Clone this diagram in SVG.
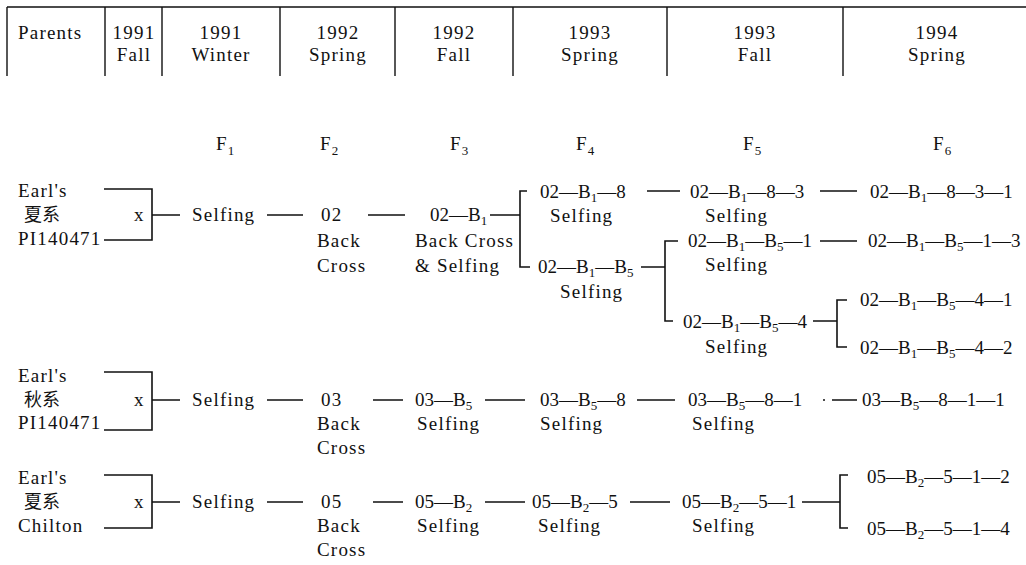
<svg xmlns="http://www.w3.org/2000/svg" width="1026" height="565" viewBox="0 0 1026 565">
<style>
.t{font-family:"Liberation Serif","Noto Sans CJK SC",serif;font-size:19px;fill:#111;letter-spacing:1.2px}
.d{letter-spacing:0}
.m{text-anchor:middle}
.c{font-family:"Noto Sans CJK SC","Noto Sans CJK JP",sans-serif;font-size:18px;fill:#111}
.s{font-size:13px}
.ln{stroke:#111;stroke-width:1.6;fill:none}
.hl{stroke:#111;stroke-width:1.4;fill:none}
</style>
<rect width="1026" height="565" fill="#fff"/>
<g id="header">
<path class="hl" d="M7,7H1026M7,7V76M105,7V76M162,7V76M280,7V76M395,7V76M513,7V76M667,7V76M843,7V76"/>
<text class="t" x="18" y="39">Parents</text>
<text class="t m" x="134" y="39">1991</text><text class="t m" x="134" y="61">Fall</text>
<text class="t m" x="221" y="39">1991</text><text class="t m" x="221" y="61">Winter</text>
<text class="t m" x="338" y="39">1992</text><text class="t m" x="338" y="61">Spring</text>
<text class="t m" x="454" y="39">1992</text><text class="t m" x="454" y="61">Fall</text>
<text class="t m" x="590" y="39">1993</text><text class="t m" x="590" y="61">Spring</text>
<text class="t m" x="755" y="39">1993</text><text class="t m" x="755" y="61">Fall</text>
<text class="t m" x="937" y="39">1994</text><text class="t m" x="937" y="61">Spring</text>
</g>
<g id="generations">
<text class="t" x="216" y="150">F<tspan class="s" dy="5">1</tspan></text>
<text class="t" x="320" y="150">F<tspan class="s" dy="5">2</tspan></text>
<text class="t" x="450" y="150">F<tspan class="s" dy="5">3</tspan></text>
<text class="t" x="576" y="150">F<tspan class="s" dy="5">4</tspan></text>
<text class="t" x="743" y="150">F<tspan class="s" dy="5">5</tspan></text>
<text class="t" x="933" y="150">F<tspan class="s" dy="5">6</tspan></text>
</g>
<g id="connectors">
<path class="ln" d="M104,189H152V240H104M152,215H180M267,215H303M368,215H405M490,215H520M527,191H520V267H530M647,191H680M820,191H857M641,267H665M678,241H665V321H673M820,241H857M813,321H837M847,300H837V347H847"/>
<path class="ln" d="M104,372H152V430H104M152,400H180M267,400H303M373,400H403M485,400H525M637,400H675M832,400H857"/>
<circle cx="824" cy="400" r="1" fill="#111"/>
<path class="ln" d="M104,475H152V528H104M152,502H180M267,502H303M373,502H403M485,502H525M630,502H670M802,502H840M848,475H840V528H848"/>
</g>
<g id="parents1">
<text class="t" x="18" y="197">Earl's</text>
<text class="c" x="24" y="221">夏系</text>
<text class="t" x="18" y="245">PI140471</text>
<text class="t" x="134" y="221">x</text>
</g>
<g id="f1-1"><text class="t" x="192" y="221">Selfing</text></g>
<g id="f2-02"><text class="t" x="321" y="221">02</text><text class="t" x="317" y="247">Back</text><text class="t" x="317" y="272">Cross</text></g>
<g id="f3-02B1"><text class="t d" x="430" y="221">02—B<tspan class="s" dy="4">1</tspan></text><text class="t" x="415" y="247">Back Cross</text><text class="t" x="415" y="272">&amp; Selfing</text></g>
<g id="f4-02B18"><text class="t d" x="540" y="198">02—B<tspan class="s" dy="4">1</tspan><tspan dy="-4">—8</tspan></text><text class="t" x="550" y="222">Selfing</text></g>
<g id="f5-02B183"><text class="t d" x="690" y="198">02—B<tspan class="s" dy="4">1</tspan><tspan dy="-4">—8—3</tspan></text><text class="t" x="705" y="222">Selfing</text></g>
<g id="f6-02B1831"><text class="t d" x="870" y="198">02—B<tspan class="s" dy="4">1</tspan><tspan dy="-4">—8—3—1</tspan></text></g>
<g id="f4-02B1B5"><text class="t d" x="538" y="273">02—B<tspan class="s" dy="4">1</tspan><tspan dy="-4">—B</tspan><tspan class="s" dy="4">5</tspan></text><text class="t" x="560" y="298">Selfing</text></g>
<g id="f5-02B1B51"><text class="t d" x="688" y="247">02—B<tspan class="s" dy="4">1</tspan><tspan dy="-4">—B</tspan><tspan class="s" dy="4">5</tspan><tspan dy="-4">—1</tspan></text><text class="t" x="705" y="271">Selfing</text></g>
<g id="f6-02B1B513"><text class="t d" x="868" y="247">02—B<tspan class="s" dy="4">1</tspan><tspan dy="-4">—B</tspan><tspan class="s" dy="4">5</tspan><tspan dy="-4">—1—3</tspan></text></g>
<g id="f5-02B1B54"><text class="t d" x="683" y="328">02—B<tspan class="s" dy="4">1</tspan><tspan dy="-4">—B</tspan><tspan class="s" dy="4">5</tspan><tspan dy="-4">—4</tspan></text><text class="t" x="705" y="353">Selfing</text></g>
<g id="f6-02B1B541"><text class="t d" x="860" y="306">02—B<tspan class="s" dy="4">1</tspan><tspan dy="-4">—B</tspan><tspan class="s" dy="4">5</tspan><tspan dy="-4">—4—1</tspan></text></g>
<g id="f6-02B1B542"><text class="t d" x="860" y="354">02—B<tspan class="s" dy="4">1</tspan><tspan dy="-4">—B</tspan><tspan class="s" dy="4">5</tspan><tspan dy="-4">—4—2</tspan></text></g>
<g id="parents2">
<text class="t" x="18" y="382">Earl's</text>
<text class="c" x="24" y="406">秋系</text>
<text class="t" x="18" y="429">PI140471</text>
<text class="t" x="134" y="406">x</text>
</g>
<g id="f1-2"><text class="t" x="192" y="406">Selfing</text></g>
<g id="f2-03"><text class="t" x="321" y="406">03</text><text class="t" x="317" y="430">Back</text><text class="t" x="317" y="454">Cross</text></g>
<g id="f3-03B5"><text class="t d" x="415" y="406">03—B<tspan class="s" dy="4">5</tspan></text><text class="t" x="417" y="430">Selfing</text></g>
<g id="f4-03B58"><text class="t d" x="540" y="406">03—B<tspan class="s" dy="4">5</tspan><tspan dy="-4">—8</tspan></text><text class="t" x="540" y="430">Selfing</text></g>
<g id="f5-03B581"><text class="t d" x="688" y="406">03—B<tspan class="s" dy="4">5</tspan><tspan dy="-4">—8—1</tspan></text><text class="t" x="692" y="430">Selfing</text></g>
<g id="f6-03B5811"><text class="t d" x="862" y="406">03—B<tspan class="s" dy="4">5</tspan><tspan dy="-4">—8—1—1</tspan></text></g>
<g id="parents3">
<text class="t" x="18" y="484">Earl's</text>
<text class="c" x="24" y="508">夏系</text>
<text class="t" x="18" y="532">Chilton</text>
<text class="t" x="134" y="508">x</text>
</g>
<g id="f1-3"><text class="t" x="192" y="508">Selfing</text></g>
<g id="f2-05"><text class="t" x="321" y="508">05</text><text class="t" x="317" y="532">Back</text><text class="t" x="317" y="556">Cross</text></g>
<g id="f3-05B2"><text class="t d" x="415" y="508">05—B<tspan class="s" dy="4">2</tspan></text><text class="t" x="417" y="532">Selfing</text></g>
<g id="f4-05B25"><text class="t d" x="532" y="508">05—B<tspan class="s" dy="4">2</tspan><tspan dy="-4">—5</tspan></text><text class="t" x="538" y="532">Selfing</text></g>
<g id="f5-05B251"><text class="t d" x="682" y="508">05—B<tspan class="s" dy="4">2</tspan><tspan dy="-4">—5—1</tspan></text><text class="t" x="692" y="532">Selfing</text></g>
<g id="f6-05B2512"><text class="t d" x="867" y="483">05—B<tspan class="s" dy="4">2</tspan><tspan dy="-4">—5—1—2</tspan></text></g>
<g id="f6-05B2514"><text class="t d" x="867" y="535">05—B<tspan class="s" dy="4">2</tspan><tspan dy="-4">—5—1—4</tspan></text></g>
</svg>
